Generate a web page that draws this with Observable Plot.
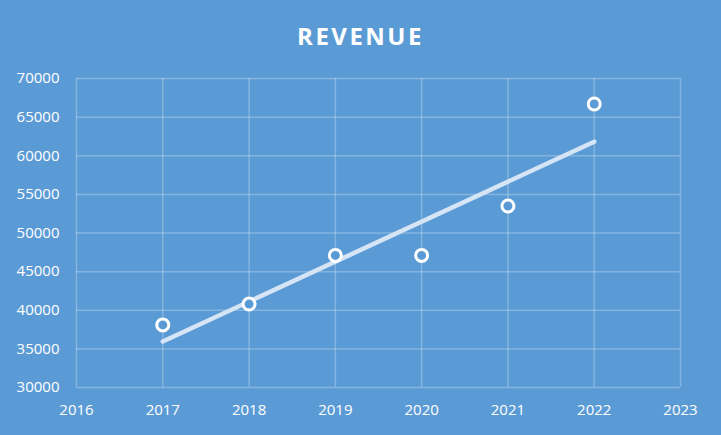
<!DOCTYPE html>
<html>
<head>
<meta charset="utf-8">
<script src="https://cdn.jsdelivr.net/npm/d3@7"></script>
<script src="https://cdn.jsdelivr.net/npm/@observablehq/plot@0.6"></script>
<style>
  html, body { margin: 0; padding: 0; background: #5b9bd5; width: 721px; height: 435px; overflow: hidden; }
  #title { height: 60px; line-height: 72px; text-align: center; color: #fff; font-family: "Open Sans", sans-serif; font-weight: 700; font-size: 24px; letter-spacing: 2.5px; }
</style>
</head>
<body>
<div id="title">REVENUE</div>
<div id="chart"></div>
<script>
const years = [2017, 2018, 2019, 2020, 2021, 2022];
const revenue = [38100, 40800, 47100, 47100, 53500, 66700];
const xTicks = [2016, 2017, 2018, 2019, 2020, 2021, 2022, 2023];
const yTicks = [30000, 35000, 40000, 45000, 50000, 55000, 60000, 65000, 70000];

const data = years.map((y, i) => ({year: y, revenue: revenue[i]}));
const bg = "#5b9bd5";

const chart = Plot.plot({
  width: 721,
  height: 375,
  marginTop: 18,
  marginBottom: 48,
  marginLeft: 76,
  marginRight: 41,
  style: {background: bg, color: "white", fontFamily: "'Open Sans', sans-serif", fontSize: "15px"},
  x: {domain: [2016, 2023], ticks: xTicks, tickFormat: d => String(d), label: null, tickSize: 0, tickPadding: 18},
  y: {domain: [30000, 70000], ticks: yTicks, tickFormat: d => String(d), label: null, tickSize: 0, tickPadding: 18},
  marks: [
    Plot.gridX(xTicks, {stroke: "white", strokeOpacity: 0.25, strokeWidth: 1.5}),
    Plot.gridY(yTicks, {stroke: "white", strokeOpacity: 0.25, strokeWidth: 1.5}),
    Plot.linearRegressionY(data, {x: "year", y: "revenue", ci: 0, stroke: "#d6e5f5", strokeWidth: 4.5}),
    Plot.dot(data, {x: "year", y: "revenue", r: 6, stroke: "white", strokeWidth: 3, fill: bg}),
    Plot.axisX({ticks: xTicks, tickFormat: d => String(d), tickSize: 0, tickPadding: 17, label: null}),
    Plot.axisY({ticks: yTicks, tickFormat: d => String(d), tickSize: 0, tickPadding: 17, label: null})
  ]
});
document.getElementById("chart").appendChild(chart);
</script>
</body>
</html>
